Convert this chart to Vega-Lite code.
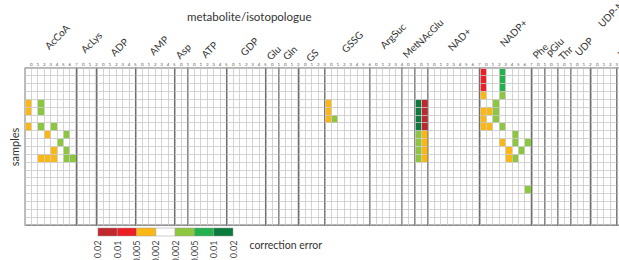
{
  "$schema": "https://vega.github.io/schema/vega-lite/v6.json",
  "padding": {"left": 9, "top": -22, "right": 0, "bottom": 0},
  "title": {"text": "metabolite/isotopologue", "anchor": "start", "dx": 178, "offset": -45, "fontSize": 11.5, "fontWeight": "normal", "font": "Lato", "color": "#333333"},
  "config": {"font": "Lato", "view": {"stroke": "#6e6e6e", "strokeWidth": 1.3}},
  "datasets": {
    "cells": [
      {"m":"AcCoA","i":0},{"m":"AcCoA","i":1},{"m":"AcCoA","i":2},{"m":"AcCoA","i":3},{"m":"AcCoA","i":4},{"m":"AcCoA","i":5},{"m":"AcCoA","i":6},{"m":"AcCoA","i":7},
      {"m":"AcLys","i":0},{"m":"AcLys","i":1},{"m":"AcLys","i":2},
      {"m":"ADP","i":0},{"m":"ADP","i":1},{"m":"ADP","i":2},{"m":"ADP","i":3},{"m":"ADP","i":4},{"m":"ADP","i":5},
      {"m":"AMP","i":0},{"m":"AMP","i":1},{"m":"AMP","i":2},{"m":"AMP","i":3},{"m":"AMP","i":4},{"m":"AMP","i":5},
      {"m":"Asp","i":0},{"m":"Asp","i":1},
      {"m":"ATP","i":0},{"m":"ATP","i":1},{"m":"ATP","i":2},{"m":"ATP","i":3},{"m":"ATP","i":4},{"m":"ATP","i":5},
      {"m":"GDP","i":0},{"m":"GDP","i":1},{"m":"GDP","i":2},{"m":"GDP","i":3},{"m":"GDP","i":4},{"m":"GDP","i":5},
      {"m":"Glu","i":0},{"m":"Glu","i":1},
      {"m":"Gln","i":0},{"m":"Gln","i":1},{"m":"Gln","i":2},
      {"m":"GS","i":0},{"m":"GS","i":1},{"m":"GS","i":2},{"m":"GS","i":3},
      {"m":"GSSG","i":0},{"m":"GSSG","i":1},{"m":"GSSG","i":2},{"m":"GSSG","i":3},{"m":"GSSG","i":4},{"m":"GSSG","i":5},{"m":"GSSG","i":6},
      {"m":"ArgSuc","i":0},{"m":"ArgSuc","i":1},{"m":"ArgSuc","i":2},{"m":"ArgSuc","i":3},{"m":"ArgSuc","i":4},
      {"m":"Met","i":0},{"m":"Met","i":1},
      {"m":"NAcGlu","i":0},{"m":"NAcGlu","i":1},
      {"m":"NAD+","i":0},{"m":"NAD+","i":1},{"m":"NAD+","i":2},{"m":"NAD+","i":3},{"m":"NAD+","i":4},{"m":"NAD+","i":5},{"m":"NAD+","i":6},{"m":"NAD+","i":7},
      {"m":"NADP+","i":0},{"m":"NADP+","i":1},{"m":"NADP+","i":2},{"m":"NADP+","i":3},{"m":"NADP+","i":4},{"m":"NADP+","i":5},{"m":"NADP+","i":6},{"m":"NADP+","i":7},
      {"m":"Phe","i":0},{"m":"Phe","i":1},
      {"m":"pGlu","i":0},{"m":"pGlu","i":1},
      {"m":"Thr","i":0},{"m":"Thr","i":1},
      {"m":"UDP","i":0},{"m":"UDP","i":1},{"m":"UDP","i":2},
      {"m":"UDP-N-AcGlc","i":0},{"m":"UDP-N-AcGlc","i":1},{"m":"UDP-N-AcGlc","i":2},{"m":"UDP-N-AcGlc","i":3},
      {"m":"UTP","i":0},{"m":"UTP","i":1},

      {"m":"AcCoA","i":0,"s":5,"e":"o"},{"m":"AcCoA","i":2,"s":5,"e":"lg"},
      {"m":"AcCoA","i":0,"s":6,"e":"o"},{"m":"AcCoA","i":2,"s":6,"e":"lg"},
      {"m":"AcCoA","i":0,"s":8,"e":"o"},{"m":"AcCoA","i":2,"s":8,"e":"lg"},{"m":"AcCoA","i":4,"s":8,"e":"lg"},
      {"m":"AcCoA","i":3,"s":9,"e":"o"},{"m":"AcCoA","i":6,"s":9,"e":"lg"},
      {"m":"AcCoA","i":5,"s":10,"e":"lg"},
      {"m":"AcCoA","i":4,"s":11,"e":"o"},{"m":"AcCoA","i":6,"s":11,"e":"lg"},
      {"m":"AcCoA","i":2,"s":12,"e":"o"},{"m":"AcCoA","i":3,"s":12,"e":"o"},{"m":"AcCoA","i":4,"s":12,"e":"o"},{"m":"AcCoA","i":6,"s":12,"e":"lg"},{"m":"AcCoA","i":7,"s":12,"e":"lg"},

      {"m":"GSSG","i":0,"s":5,"e":"o"},{"m":"GSSG","i":0,"s":6,"e":"o"},{"m":"GSSG","i":0,"s":7,"e":"o"},{"m":"GSSG","i":1,"s":7,"e":"lg"},

      {"m":"NAcGlu","i":0,"s":5,"e":"dg"},{"m":"NAcGlu","i":0,"s":6,"e":"dg"},{"m":"NAcGlu","i":0,"s":7,"e":"dg"},{"m":"NAcGlu","i":0,"s":8,"e":"dg"},
      {"m":"NAcGlu","i":0,"s":9,"e":"lg"},{"m":"NAcGlu","i":0,"s":10,"e":"lg"},{"m":"NAcGlu","i":0,"s":11,"e":"lg"},{"m":"NAcGlu","i":0,"s":12,"e":"lg"},
      {"m":"NAcGlu","i":1,"s":5,"e":"dr"},{"m":"NAcGlu","i":1,"s":6,"e":"dr"},{"m":"NAcGlu","i":1,"s":7,"e":"dr"},{"m":"NAcGlu","i":1,"s":8,"e":"dr"},
      {"m":"NAcGlu","i":1,"s":9,"e":"o"},{"m":"NAcGlu","i":1,"s":10,"e":"o"},{"m":"NAcGlu","i":1,"s":11,"e":"o"},{"m":"NAcGlu","i":1,"s":12,"e":"o"},

      {"m":"NADP+","i":0,"s":1,"e":"r"},{"m":"NADP+","i":0,"s":2,"e":"r"},{"m":"NADP+","i":0,"s":3,"e":"r"},{"m":"NADP+","i":0,"s":4,"e":"o"},
      {"m":"NADP+","i":0,"s":6,"e":"o"},{"m":"NADP+","i":0,"s":7,"e":"o"},{"m":"NADP+","i":0,"s":8,"e":"o"},
      {"m":"NADP+","i":1,"s":6,"e":"o"},{"m":"NADP+","i":1,"s":8,"e":"o"},
      {"m":"NADP+","i":2,"s":5,"e":"lg"},{"m":"NADP+","i":2,"s":6,"e":"lg"},{"m":"NADP+","i":2,"s":7,"e":"lg"},
      {"m":"NADP+","i":3,"s":1,"e":"g"},{"m":"NADP+","i":3,"s":2,"e":"g"},{"m":"NADP+","i":3,"s":3,"e":"g"},{"m":"NADP+","i":3,"s":4,"e":"lg"},
      {"m":"NADP+","i":3,"s":8,"e":"lg"},{"m":"NADP+","i":3,"s":10,"e":"o"},
      {"m":"NADP+","i":4,"s":11,"e":"o"},{"m":"NADP+","i":4,"s":12,"e":"o"},
      {"m":"NADP+","i":5,"s":9,"e":"lg"},{"m":"NADP+","i":5,"s":10,"e":"lg"},{"m":"NADP+","i":5,"s":12,"e":"lg"},
      {"m":"NADP+","i":6,"s":11,"e":"lg"},
      {"m":"NADP+","i":7,"s":10,"e":"lg"},{"m":"NADP+","i":7,"s":16,"e":"lg"}
    ],
    "legend": [
      {"e":"dr","a":0,"b":1,"row":"k"},
      {"e":"r","a":1,"b":2,"row":"k"},
      {"e":"o","a":2,"b":3,"row":"k"},
      {"e":"w","a":3,"b":4,"row":"k"},
      {"e":"lg","a":4,"b":5,"row":"k"},
      {"e":"g","a":5,"b":6,"row":"k"},
      {"e":"dg","a":6,"b":7,"row":"k"}
    ]
  },
  "resolve": {"scale": {"x": "independent", "y": "independent", "color": "shared"}},
  "spacing": 1,
  "vconcat": [
    {
      "data": {"name": "cells"},
      "facet": {
        "column": {
          "field": "m", "type": "nominal",
          "sort": ["AcCoA","AcLys","ADP","AMP","Asp","ATP","GDP","Glu","Gln","GS","GSSG","ArgSuc","Met","NAcGlu","NAD+","NADP+","Phe","pGlu","Thr","UDP","UDP-N-AcGlc","UTP"],
          "header": {"title": null, "labelAngle": -45, "labelAlign": "left", "labelBaseline": "bottom", "labelFontSize": 10, "labelColor": "#333333", "labelPadding": -12, "labelLimit": 300, "labelFont": "Lato"}
        }
      },
      "spacing": 0,
      "bounds": "flush",
      "resolve": {"scale": {"x": "independent"}, "axis": {"x": "independent"}},
      "spec": {
        "width": {"step": 6.4},
        "height": 157,
        "layer": [
          {
            "mark": {"type": "rect", "opacity": 0},
            "encoding": {
              "x": {"field": "i", "type": "ordinal", "scale": {"paddingInner": 0, "paddingOuter": 0},
                "axis": {"orient": "top", "title": null, "labelFontSize": 4.5, "labelAngle": 0, "ticks": false, "domain": false, "labelPadding": 2, "grid": true, "gridColor": "#c8c8c8", "gridWidth": 0.8, "bandPosition": 0, "labelOffset": 3.2, "labelColor": "#555555"}}
            }
          },
          {
            "transform": [{"filter": "isValid(datum.e)"}],
            "mark": {"type": "rect"},
            "encoding": {
              "x": {"field": "i", "type": "ordinal"},
              "y": {"field": "s", "type": "ordinal",
                "scale": {"domain": [1,2,3,4,5,6,7,8,9,10,11,12,13,14,15,16,17,18,19,20], "paddingInner": 0, "paddingOuter": 0},
                "axis": {"title": "samples", "labels": false, "ticks": false, "domain": false, "grid": true, "gridColor": "#c8c8c8", "gridWidth": 0.8, "bandPosition": 0, "titleFontSize": 11, "titleFontWeight": "normal", "titlePadding": 5, "titleColor": "#333333"}},
              "color": {"field": "e", "type": "nominal", "legend": null,
                "scale": {"domain": ["dr","r","o","w","lg","g","dg"], "range": ["#c1272d","#ec1f26","#fbb714","#ffffff","#8dc63f","#22b14c","#0c7a3c"]}}
            }
          }
        ]
      }
    },
    {
      "data": {"name": "legend"},
      "width": 208,
      "height": 8,
      "view": {"stroke": null},
      "mark": {"type": "rect", "stroke": "#9a9a9a", "strokeWidth": 0.5},
      "encoding": {
        "x": {"field": "a", "type": "quantitative", "scale": {"domain": [-3.78, 7], "nice": false, "zero": false},
          "axis": {"values": [0,1,2,3,4,5,6,7], "labelExpr": "['0.02','0.01','0.005','0.002','0.002','0.005','0.01','0.02'][datum.value]", "labelAngle": -90, "ticks": false, "domain": false, "grid": false, "title": null, "labelFontSize": 9, "labelPadding": 4, "labelColor": "#444444"}},
        "x2": {"field": "b"},
        "y": {"field": "row", "type": "nominal",
          "axis": {"orient": "right", "title": "correction error", "labels": false, "ticks": false, "domain": false, "titleAngle": 0, "titleAlign": "left", "titleBaseline": "middle", "titlePadding": 16, "titleY": 17, "titleFontSize": 10.5, "titleFontWeight": "normal", "titleColor": "#333333"}},
        "color": {"field": "e", "type": "nominal", "legend": null,
          "scale": {"domain": ["dr","r","o","w","lg","g","dg"], "range": ["#c1272d","#ec1f26","#fbb714","#ffffff","#8dc63f","#22b14c","#0c7a3c"]}}
      }
    }
  ]
}
